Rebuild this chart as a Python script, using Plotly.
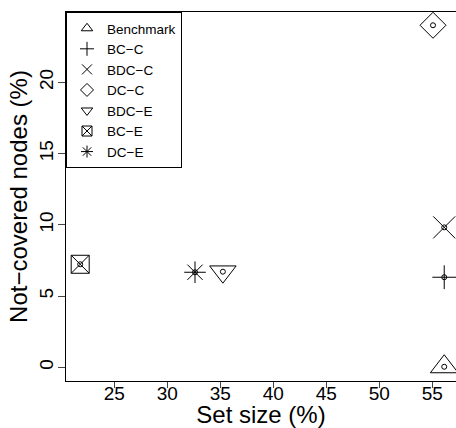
import plotly.graph_objects as go

names = ["Benchmark", "BC−C", "BDC−C", "DC−C", "BDC−E", "BC−E", "DC−E"]
set_size = [56.13, 56.13, 56.13, 55.07, 35.25, 21.79, 32.62]
not_covered = [0.04, 6.32, 9.82, 24.0, 6.71, 7.23, 6.67]
symbols = ["triangle-up-open", "cross-thin-open", "x-thin-open", "diamond-open",
           "triangle-down-open", "square-x-open", "asterisk-open"]
sizes = [24, 17, 22, 20, 23, 18, 18]
x_ticks = [25, 30, 35, 40, 45, 50, 55]
y_ticks = [0, 5, 10, 15, 20]

FONT = "Liberation Sans, Arial, Helvetica, sans-serif"

fig = go.Figure()
for n, x, y, s, sz in zip(names, set_size, not_covered, symbols, sizes):
    fig.add_trace(go.Scatter(
        x=[x], y=[y], mode="markers", name=n, showlegend=False, cliponaxis=False,
        marker=dict(symbol=s, size=sz, color="black", line=dict(width=1, color="black")),
    ))
# small inner circles
fig.add_trace(go.Scatter(
    x=set_size, y=not_covered, mode="markers", showlegend=False, cliponaxis=False,
    marker=dict(symbol="circle-open", size=5, color="black", line=dict(width=1, color="black")),
))
# legend entries
for n, s in zip(names, symbols):
    fig.add_trace(go.Scatter(
        x=[None], y=[None], mode="markers", name=n,
        marker=dict(symbol=s, size=10, color="black", line=dict(width=1, color="black")),
    ))

fig.update_layout(
    width=456, height=428,
    margin=dict(l=66, r=0, t=12, b=47, autoexpand=False),
    plot_bgcolor="white", paper_bgcolor="white",
    font=dict(family=FONT, color="black"),
    legend=dict(
        x=0, y=1, xanchor="left", yanchor="top",
        bordercolor="black", borderwidth=1, bgcolor="white",
        font=dict(size=13.5, family=FONT), itemsizing="trace",
        tracegroupgap=0, itemwidth=30,
    ),
    xaxis=dict(
        range=[20.45, 57.24], tickvals=x_ticks, ticks="outside", ticklen=6,
        showline=True, linecolor="black", linewidth=1, mirror=True,
        showgrid=False, zeroline=False, tickfont=dict(size=19), automargin=False,
        ticklabelstandoff=-11,
        title=dict(text="Set size (%)", font=dict(size=24), standoff=6),
    ),
    yaxis=dict(
        range=[-0.96, 24.93], tickvals=y_ticks, ticks="outside", ticklen=7,
        showline=True, linecolor="black", linewidth=1, automargin=False,
        showgrid=False, zeroline=False, tickfont=dict(size=19), tickangle=-90,
        ticklabelstandoff=-3,
        title=dict(text="Not−covered nodes (%)", font=dict(size=24), standoff=2),
    ),
)

fig.write_html("out.html", config={"displayModeBar": False},
               post_script="document.body.style.margin='0';document.body.style.overflow='hidden';")
